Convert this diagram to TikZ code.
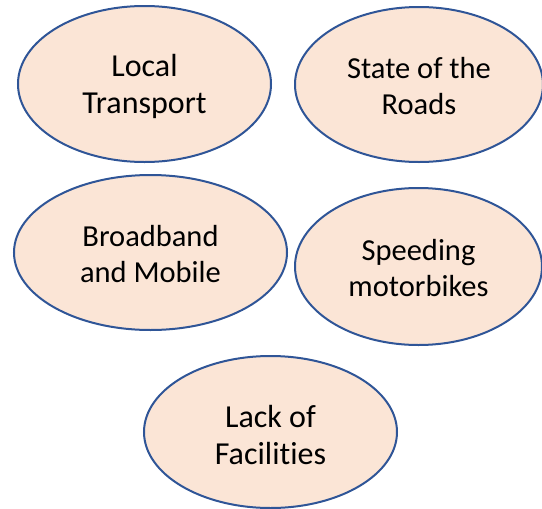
\documentclass[tikz,border=0pt]{standalone}
\usepackage{fontspec}
\setmainfont{Carlito}[Ligatures=NoCommon]
\usetikzlibrary{shapes.geometric}
\definecolor{ovalfill}{HTML}{FBE5D6}
\definecolor{ovalline}{HTML}{2F5597}
\newcommand{\bigstrut}{\rule{0pt}{0.86em}}
\newcommand{\midstrut}{\rule{0pt}{0.78em}}
\tikzset{
  oval/.style={ellipse, draw=ovalline, fill=ovalfill, line width=2pt, inner sep=0pt, align=center, text=black},
  bigtext/.style={font=\fontsize{32}{37}\selectfont},
  midtext/.style={font=\fontsize{30.5}{36}\selectfont}
}
\begin{document}
\begin{tikzpicture}[x=1pt,y=-1pt]
\useasboundingbox (0,0) rectangle (542,509);
\clip (0,0) rectangle (542,509);
\node[oval, bigtext, minimum width=253pt, minimum height=156pt] (local) at (144.5,84) {\bigstrut Local\\Transport};
\node[oval, midtext, minimum width=248pt, minimum height=155pt] (roads) at (419,84.5) {\midstrut State of the\\Roads};
\node[oval, midtext, minimum width=273pt, minimum height=155pt] (broad) at (150.5,252.5) {\midstrut Broadband\\and Mobile};
\node[oval, midtext, minimum width=247pt, minimum height=157pt] (speed) at (418.5,266.5) {\midstrut Speeding\\motorbikes};
\node[oval, bigtext, minimum width=253pt, minimum height=152pt] (lack) at (270.5,432) {\bigstrut Lack of\\Facilities};
\end{tikzpicture}
\end{document}
